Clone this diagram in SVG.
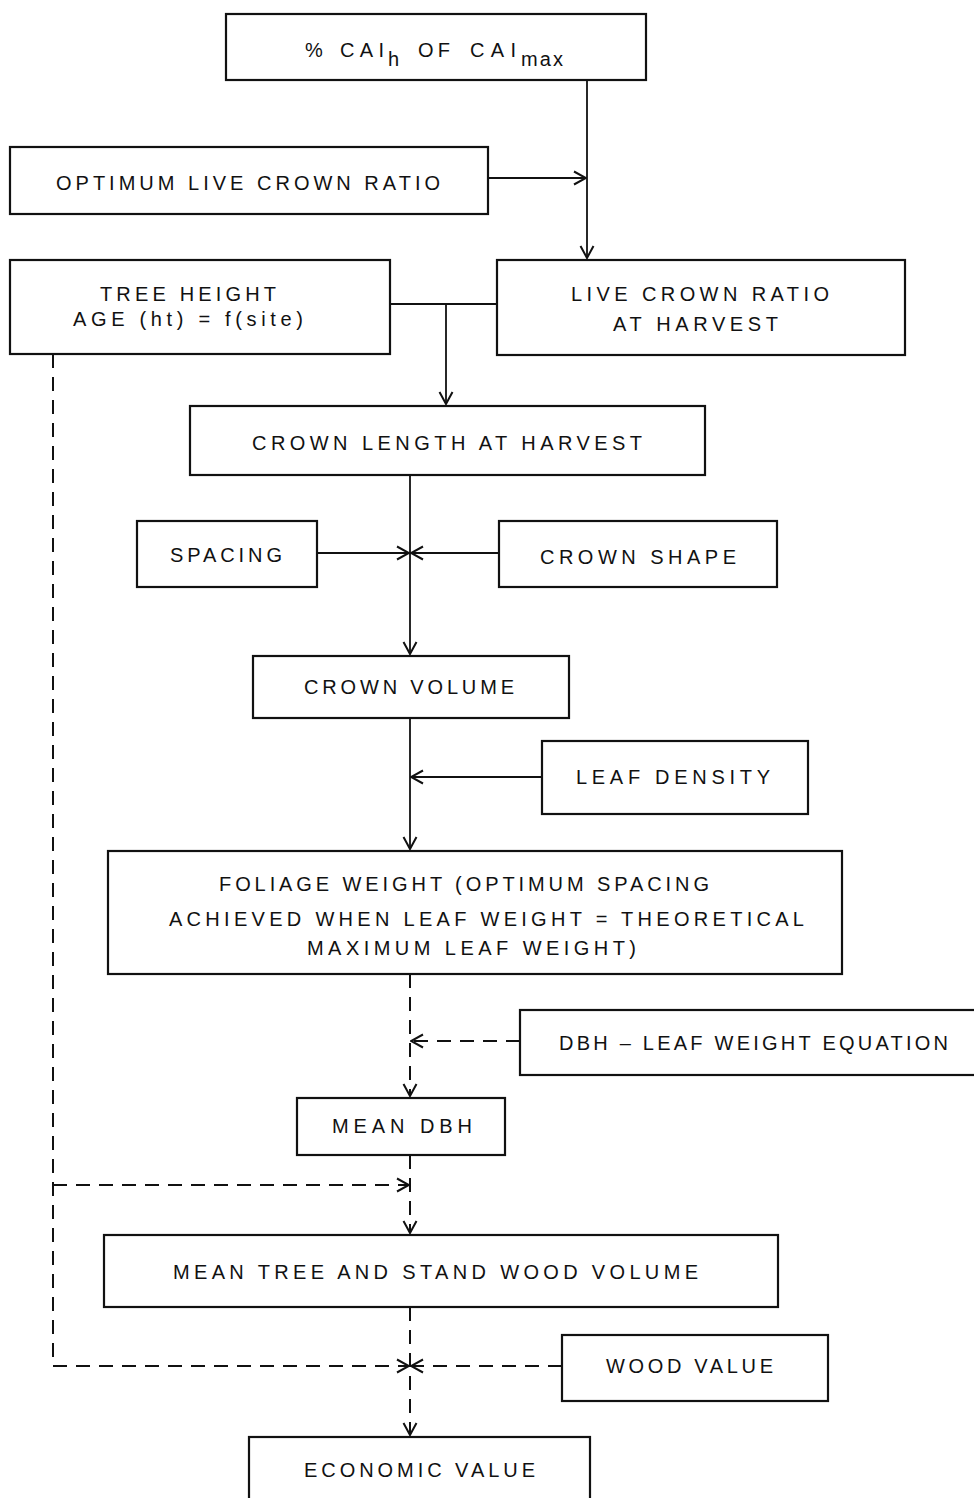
<svg xmlns="http://www.w3.org/2000/svg" width="974" height="1498" viewBox="0 0 974 1498">
<style>
.box{fill:#fff;stroke:#111;stroke-width:2.2}
.t{font-family:"Liberation Sans",Arial,sans-serif;font-size:20px;fill:#111}
.c{fill:none;stroke:#111;stroke-width:1.8}
.d{fill:none;stroke:#111;stroke-width:2;stroke-dasharray:14 9}
</style>
<defs>
<marker id="ah" markerUnits="userSpaceOnUse" markerWidth="14" markerHeight="16" refX="13" refY="7" orient="auto" viewBox="0 0 14 14">
<path d="M1,0.5 L13,7 L1,13.5" fill="none" stroke="#111" stroke-width="2"/>
</marker>
</defs>
<rect width="974" height="1498" fill="#fff"/>
<g id="connectors">
<path class="c" d="M587,80 V258" marker-end="url(#ah)"/>
<path class="c" d="M488,178 H586" marker-end="url(#ah)"/>
<path class="c" d="M390,304 H497"/>
<path class="c" d="M446,304 V404" marker-end="url(#ah)"/>
<path class="c" d="M410,475 V654" marker-end="url(#ah)"/>
<path class="c" d="M317,553 H409" marker-end="url(#ah)"/>
<path class="c" d="M499,553 H411" marker-end="url(#ah)"/>
<path class="c" d="M410,718 V849" marker-end="url(#ah)"/>
<path class="c" d="M542,777 H411" marker-end="url(#ah)"/>
<path class="d" d="M410,974 V1096" marker-end="url(#ah)"/>
<path class="d" d="M520,1041 H411" marker-end="url(#ah)"/>
<path class="d" d="M410,1155 V1233" marker-end="url(#ah)"/>
<path class="d" d="M53,354 V1366 H409" marker-end="url(#ah)"/>
<path class="d" d="M53,1185 H409" marker-end="url(#ah)"/>
<path class="d" d="M410,1307 V1435" marker-end="url(#ah)"/>
<path class="d" d="M562,1366 H411" marker-end="url(#ah)"/>
</g>
<g id="n1"><rect class="box" x="226" y="14" width="420" height="66"/>
<text class="t" y="57"><tspan x="305">%</tspan><tspan x="340" textLength="44" lengthAdjust="spacing">CAI</tspan><tspan x="388" dy="9">h</tspan><tspan x="418" dy="-9" textLength="32" lengthAdjust="spacing">OF</tspan><tspan x="470" textLength="46" lengthAdjust="spacing">CAI</tspan><tspan x="521" dy="9" textLength="42" lengthAdjust="spacing">max</tspan></text></g>
<g id="n2"><rect class="box" x="10" y="147" width="478" height="67"/>
<text class="t" x="56" y="190" textLength="384" lengthAdjust="spacing">OPTIMUM LIVE CROWN RATIO</text></g>
<g id="n3"><rect class="box" x="10" y="260" width="380" height="94"/>
<text class="t" x="100" y="301" textLength="176" lengthAdjust="spacing">TREE HEIGHT</text>
<text class="t" x="73" y="326" textLength="230" lengthAdjust="spacing">AGE  (ht) = f(site)</text></g>
<g id="n4"><rect class="box" x="497" y="260" width="408" height="95"/>
<text class="t" x="571" y="301" textLength="258" lengthAdjust="spacing">LIVE CROWN RATIO</text>
<text class="t" x="613" y="331" textLength="165" lengthAdjust="spacing">AT HARVEST</text></g>
<g id="n5"><rect class="box" x="190" y="406" width="515" height="69"/>
<text class="t" x="252" y="450" textLength="390" lengthAdjust="spacing">CROWN LENGTH AT HARVEST</text></g>
<g id="n6"><rect class="box" x="137" y="521" width="180" height="66"/>
<text class="t" x="170" y="562" textLength="112" lengthAdjust="spacing">SPACING</text></g>
<g id="n7"><rect class="box" x="499" y="521" width="278" height="66"/>
<text class="t" x="540" y="564" textLength="196" lengthAdjust="spacing">CROWN  SHAPE</text></g>
<g id="n8"><rect class="box" x="253" y="656" width="316" height="62"/>
<text class="t" x="304" y="694" textLength="210" lengthAdjust="spacing">CROWN VOLUME</text></g>
<g id="n9"><rect class="box" x="542" y="741" width="266" height="73"/>
<text class="t" x="576" y="784" textLength="194" lengthAdjust="spacing">LEAF DENSITY</text></g>
<g id="n10"><rect class="box" x="108" y="851" width="734" height="123"/>
<text class="t" x="219" y="891" textLength="490" lengthAdjust="spacing">FOLIAGE WEIGHT (OPTIMUM SPACING</text>
<text class="t" x="169" y="926" textLength="635" lengthAdjust="spacing">ACHIEVED WHEN LEAF WEIGHT = THEORETICAL</text>
<text class="t" x="307" y="955" textLength="329" lengthAdjust="spacing">MAXIMUM LEAF WEIGHT)</text></g>
<g id="n11"><rect class="box" x="520" y="1010" width="460" height="65"/>
<text class="t" x="559" y="1050" textLength="389" lengthAdjust="spacing">DBH – LEAF WEIGHT EQUATION</text></g>
<g id="n12"><rect class="box" x="297" y="1098" width="208" height="57"/>
<text class="t" x="332" y="1133" textLength="140" lengthAdjust="spacing">MEAN DBH</text></g>
<g id="n13"><rect class="box" x="104" y="1235" width="674" height="72"/>
<text class="t" x="173" y="1279" textLength="525" lengthAdjust="spacing">MEAN TREE AND STAND WOOD VOLUME</text></g>
<g id="n14"><rect class="box" x="562" y="1335" width="266" height="66"/>
<text class="t" x="606" y="1373" textLength="167" lengthAdjust="spacing">WOOD VALUE</text></g>
<g id="n15"><rect class="box" x="249" y="1437" width="341" height="80"/>
<text class="t" x="304" y="1477" textLength="231" lengthAdjust="spacing">ECONOMIC VALUE</text></g>
</svg>
